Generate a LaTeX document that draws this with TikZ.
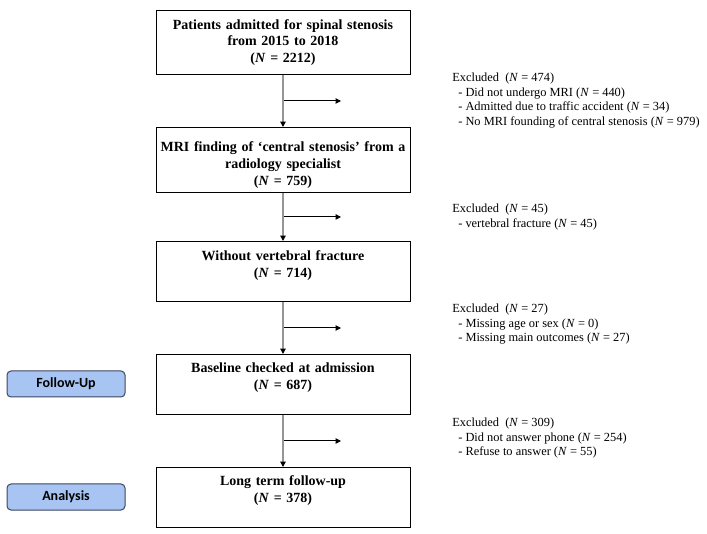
\documentclass[tikz,border=0pt]{standalone}
\usepackage{fontspec}
\setmainfont{Liberation Serif}
\newfontfamily\calibri{Carlito}
\usepackage{xcolor}
\usepackage{tikz}
\usetikzlibrary{arrows.meta,positioning,calc}

\definecolor{phasefill}{RGB}{167,196,242}
\definecolor{phaseline}{RGB}{60,70,95}
\definecolor{flowgray}{RGB}{150,150,150}

\begin{document}
\begin{tikzpicture}[x=0.75pt,y=-0.75pt,
    stage/.style={draw, line width=0.75pt, anchor=north, text width=186pt, inner xsep=2.25pt,
                  minimum height=45pt, align=center, font=\fontsize{10.5}{12.4}\selectfont\bfseries},
    excl/.style={anchor=north west, inner sep=0pt, align=left, font=\fontsize{9.3}{10.9}\selectfont},
    phase/.style={draw=phaseline, line width=0.75pt, fill=phasefill, rounded corners=3pt,
                  minimum width=88.5pt, minimum height=19.5pt, font=\calibri\bfseries\fontsize{10.5}{12}\selectfont},
    flow/.style={flowgray, line width=0.9pt, -{Triangle[black,length=4pt,width=4pt]}},
    branch/.style={black, line width=0.75pt, -{Triangle[length=4pt,width=4pt]}}]
                    \useasboundingbox (0,0) rectangle (707,534);

                    \node[stage, minimum height=48pt] (adm) at (283,10) {Patients admitted for spinal stenosis\\from 2015 to 2018\\(\textit{N} = 2212)};
                    \node[stage] (mri) at (283,127) {\rule{0pt}{15pt}MRI finding of ‘central stenosis’ from a\\radiology specialist\\(\textit{N} = 759)};
                    \node[stage] (nofx) at (283,241) {Without vertebral fracture\\(\textit{N} = 714)\\[-1pt]\mbox{}};
                    \node[stage] (base) at (283,354) {Baseline checked at admission\\(\textit{N} = 687)\\[0pt]\mbox{}};
                    \node[stage] (long) at (283,467) {Long term follow-up\\(\textit{N} = 378)\\[0pt]\mbox{}};

                    \node[excl] (exa) at (452,73) {Excluded~~(\textit{N} = 474)\\\hspace*{4.5pt}- Did not undergo MRI (\textit{N} = 440)\\\hspace*{4.5pt}- Admitted due to traffic accident (\textit{N} = 34)\\\hspace*{4.5pt}- No MRI founding of central stenosis (\textit{N} = 979)};
                    \node[excl] (exb) at (452,204) {Excluded~~(\textit{N} = 45)\\\hspace*{4.5pt}- vertebral fracture (\textit{N} = 45)};
                    \node[excl] (exc) at (452,304) {Excluded~~(\textit{N} = 27)\\\hspace*{4.5pt}- Missing age or sex (\textit{N} = 0)\\\hspace*{4.5pt}- Missing main outcomes (\textit{N} = 27)};
                    \node[excl] (exd) at (452,418) {Excluded~~(\textit{N} = 309)\\\hspace*{4.5pt}- Did not answer phone (\textit{N} = 254)\\\hspace*{4.5pt}- Refuse to answer (\textit{N} = 55)};

                    \node[phase] (fu) at (66,384) {Follow-Up};
                    \node[phase] (an) at (66,497) {Analysis};

                    % branch points on the main flow
                    \coordinate (ba) at ($(adm.south)!0.5!(mri.north)$);
                    \coordinate (bb) at ($(mri.south)!0.5!(nofx.north)$);
                    \coordinate (bc) at ($(nofx.south)!0.5!(base.north)$);
                    \coordinate (bd) at ($(base.south)!0.5!(long.north)$);
                    \coordinate (ea) at ($(ba)+(58,0)$);
                    \coordinate (eb) at ($(bb)+(58,0)$);
                    \coordinate (ec) at ($(bc)+(58,0)$);
                    \coordinate (ed) at ($(bd)+(58,0)$);

                    \draw[branch] (ba) -- (ea);
                    \draw[branch] (bb) -- (eb);
                    \draw[branch] (bc) -- (ec);
                    \draw[branch] (bd) -- (ed);

                    \draw[flow] (adm) -- (mri);
                    \draw[flow] (mri) -- (nofx);
                    \draw[flow] (nofx) -- (base);
                    \draw[flow] (base) -- (long);
\end{tikzpicture}
\end{document}
